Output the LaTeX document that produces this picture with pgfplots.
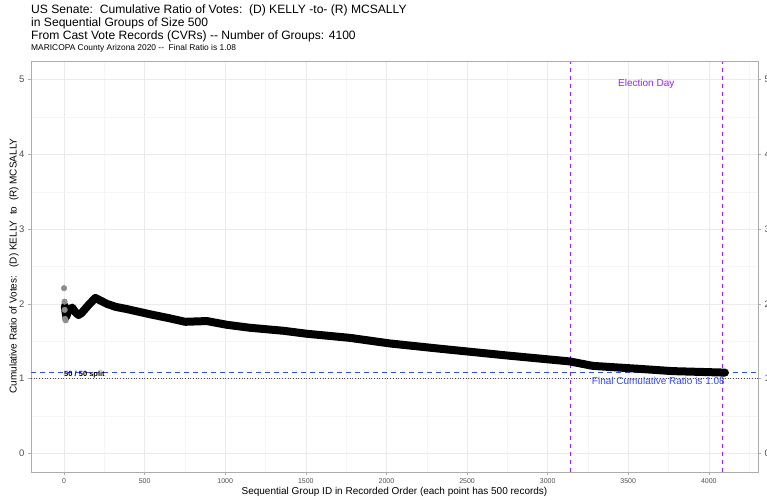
\documentclass[border=0pt]{standalone}
\usepackage{fontspec}
\setmainfont{Liberation Sans}
\usepackage{pgfplots}
\pgfplotsset{compat=1.18}
\definecolor{purp}{RGB}{160,32,240}
\definecolor{lblue}{RGB}{45,75,255}
\definecolor{tickgray}{RGB}{77,77,77}
\definecolor{gridmaj}{RGB}{235,235,235}
\definecolor{gridmin}{RGB}{245,245,245}
\begin{document}
\begin{tikzpicture}[x=1pt,y=1pt]
\path[use as bounding box] (-31,-27) rectangle (736,472);
\begin{axis}[
  at={(0,0)}, anchor=south west, scale only axis,
  width=727pt, height=411pt,
  xmin=-205, xmax=4305, ymin=-0.25, ymax=5.25,
  xtick={0,500,...,4000}, minor xtick={250,750,...,4250},
  ytick={0,1,...,5}, minor ytick={0.5,1.5,...,4.5},
  grid=both,
  major grid style={draw=gridmaj, line width=0.6pt},
  minor grid style={draw=gridmin, line width=0.4pt},
  axis line style={draw=gray!65, line width=0.6pt},
  major tick style={draw=gray!65, line width=0.6pt},
  major tick length=3pt, minor tick length=0pt, tick align=outside,
  xtick pos=bottom, ytick pos=left,
  /pgf/number format/assume math mode=true,
  /pgf/number format/1000 sep={},
  x tick label style={font=\fontsize{7}{8}\selectfont, text=tickgray},
  y tick label style={font=\fontsize{9.5}{10}\selectfont, text=tickgray},
  clip=false,
]
% reference lines
\addplot[gray!60!black, dotted, line width=0.7pt] coordinates {(-205,1) (4305,1)};
\addplot[lblue, dash pattern=on 5pt off 4pt, line width=0.7pt] coordinates {(-205,1.08) (4305,1.08)};
\addplot[purp, dash pattern=on 4pt off 4pt, line width=0.7pt] coordinates {(3139,-0.25) (3139,5.25)};
\addplot[purp, dash pattern=on 4pt off 4pt, line width=0.7pt] coordinates {(4085,-0.25) (4085,5.25)};
% early scattered points
\addplot[only marks, mark=*, mark size=2.8pt, mark options={draw=black!45, fill=black!45}] coordinates {
(0,2.21) (3,2.03) (6,1.80) (10,1.78) (4,1.92)};
% cumulative ratio trace
\addplot[black, line width=8pt, line cap=round, line join=round] coordinates {
(5,1.97) (10,1.88) (14,1.83) (25,1.90) (50,1.95) (70,1.89) (90,1.85) (110,1.88)
(150,1.98) (194,2.08) (230,2.04) (266,2.00) (320,1.96) (390,1.93) (535,1.86)
(648,1.81) (752,1.76) (886,1.77) (1010,1.72) (1154,1.68) (1361,1.64) (1506,1.60)
(1774,1.545) (2022,1.47) (2331,1.40) (2745,1.31) (3137,1.23) (3281,1.17)
(3571,1.13) (3775,1.10) (4100,1.08)};
% annotations
\node[font=\fontsize{7.5}{8}\selectfont\bfseries, anchor=west, inner sep=0pt] at (axis cs:0,1.06) {50 / 50 split};
\node[font=\fontsize{10}{11}\selectfont, text=lblue, anchor=east, inner sep=0pt] at (axis cs:4100,0.97) {Final Cumulative Ratio is 1.08};
\node[font=\fontsize{10}{11}\selectfont, text=purp, inner sep=0pt] at (axis cs:3612,4.95) {Election Day};
% top/right border
\draw[gray!65, line width=0.6pt] (rel axis cs:0,1) -- (rel axis cs:1,1) -- (rel axis cs:1,0);
\end{axis}
\begin{axis}[
  at={(0,0)}, anchor=south west, scale only axis,
  width=727pt, height=411pt,
  xmin=-205, xmax=4305, ymin=-0.25, ymax=5.25,
  hide x axis, axis y line*=right,
  ytick={0,1,...,5},
  axis line style={draw=gray!65, line width=0.6pt},
  major tick style={draw=gray!65, line width=0.6pt},
  major tick length=3pt, tick align=outside,
  /pgf/number format/assume math mode=true,
  y tick label style={font=\fontsize{9.5}{10}\selectfont, text=tickgray},
]
\end{axis}
% titles
\node[anchor=west, font=\fontsize{12.1}{14}\selectfont, inner sep=0pt] at (0,462) {US Senate:\ \ Cumulative Ratio of Votes:\ \ (D) KELLY -to- (R) MCSALLY};
\node[anchor=west, font=\fontsize{12.1}{14}\selectfont, inner sep=0pt] at (0,449) {in Sequential Groups of Size 500};
\node[anchor=west, font=\fontsize{12.1}{14}\selectfont, inner sep=0pt] at (0,436) {From Cast Vote Records (CVRs) -{}- Number of Groups: 4100};
\node[anchor=west, font=\fontsize{8.4}{10}\selectfont, inner sep=0pt] at (0,423.5) {MARICOPA County Arizona 2020 -{}-\ \ Final Ratio is 1.08};
% axis titles
\node[font=\fontsize{10}{11}\selectfont] at (363.5,-19.5) {Sequential Group ID in Recorded Order (each point has 500 records)};
\node[rotate=90, font=\fontsize{10}{11}\selectfont] at (-17,206) {Cumulative Ratio of Votes:\ \ \ (D) KELLY\ \ to\ \ (R) MCSALLY};
\end{tikzpicture}
\end{document}
